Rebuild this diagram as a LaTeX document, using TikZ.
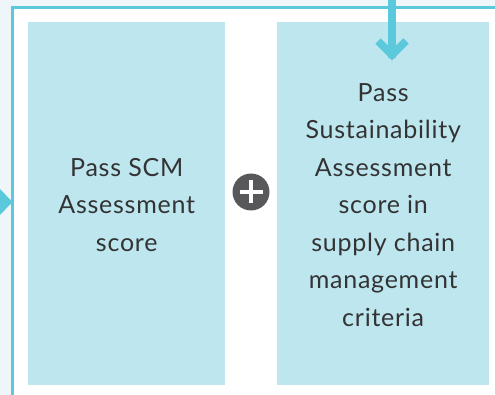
\documentclass[tikz,border=0pt]{standalone}
\usepackage{fontspec}
\setmainfont{Lato}[LetterSpace=3]
\definecolor{bgout}{HTML}{EEF6F9}
\definecolor{cyanline}{HTML}{5BC8DC}
\definecolor{boxfill}{HTML}{BEE6EF}
\definecolor{plusgray}{HTML}{58585A}
\definecolor{txt}{HTML}{333333}
\tikzset{
  scorebox/.style={fill=boxfill, draw=none, inner sep=0pt, anchor=north west},
  boxtext/.style={align=center, text=txt, font=\fontsize{25}{37.5}\selectfont, inner sep=0pt},
  flowline/.style={draw=cyanline, line width=3pt},
}
\begin{document}
\begin{tikzpicture}[x=1pt,y=-1pt]
\useasboundingbox (0,0) rectangle (495,395);
\fill[bgout] (0,0) rectangle (495,395);
\fill[white] (12.5,7.5) rectangle (495,395);
\draw[flowline] (12.5,395) -- (12.5,7.5) -- (495,7.5);
% boxes
\node[scorebox, minimum width=197pt, minimum height=363pt] (left) at (28,22) {};
\node[scorebox, minimum width=212pt, minimum height=363pt] (right) at (277,22) {};
\node[boxtext] (lt) at ([yshift=-1pt]left.center) {Pass SCM\\Assessment\\score};
\node[boxtext] (rt) at ([yshift=-1pt]right.center) {Pass\\Sustainability\\Assessment\\score in\\supply chain\\management\\criteria};
% plus
\node[circle, fill=plusgray, minimum size=37pt, inner sep=0pt] (plus) at (251,192) {};
\draw[white, line width=4.5pt] ([xshift=-11.5pt]plus.center) -- ([xshift=11.5pt]plus.center);
\draw[white, line width=4.5pt] ([yshift=-11.5pt]plus.center) -- ([yshift=11.5pt]plus.center);
% top arrow
\coordinate (topstart) at (392,0);
\coordinate (tip) at (392,55);
\draw[draw=cyanline, line width=7.5pt] (topstart) -- ([yshift=-3pt]tip);
\draw[draw=cyanline, line width=7.5pt, line join=miter] (378,41) -- (tip) -- (406,41);
% left arrowhead
\coordinate (ltip) at (12.5,202);
\fill[cyanline] (ltip) -- (-2,187) -- (-2,217) -- cycle;
\end{tikzpicture}
\end{document}
